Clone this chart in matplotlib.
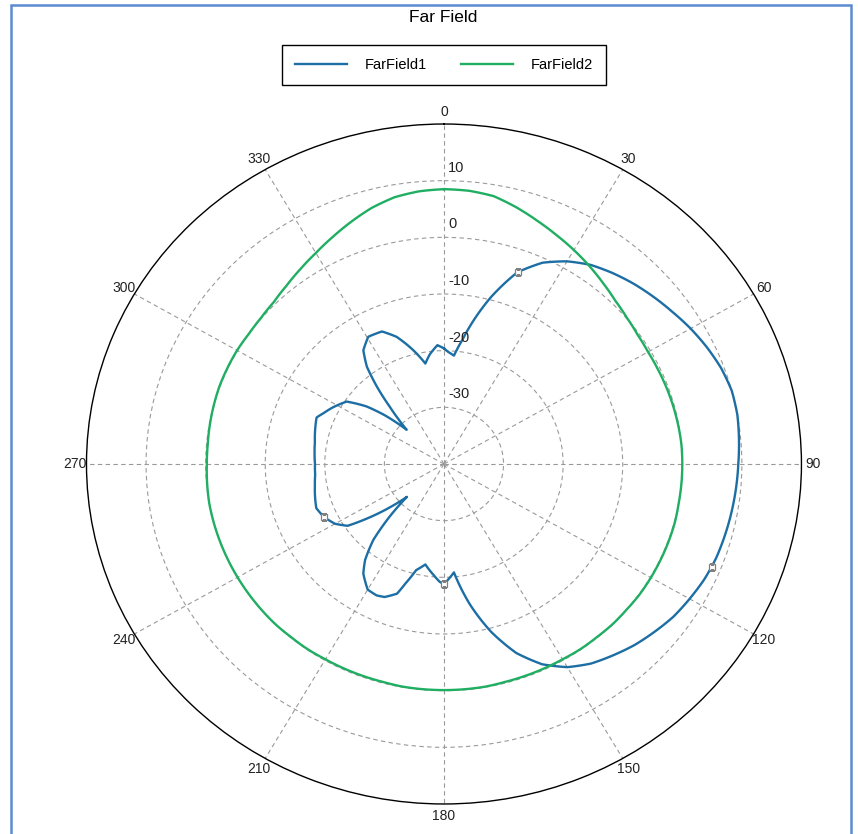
import numpy as np
import matplotlib.pyplot as plt
from matplotlib.transforms import offset_copy
from matplotlib.patches import Rectangle

plt.rcParams['font.family'] = ['Liberation Sans', 'DejaVu Sans']

# far field data, angle in degrees (0 = up, clockwise), gain in dB
ff1_angle = [0, 2, 5, 8, 10, 15, 20, 25, 30, 35, 40, 45, 50, 55, 60, 65, 70, 75, 80,
             85, 90, 95, 100, 105, 110, 115, 120, 125, 130, 135, 140, 145, 150, 155,
             160, 165, 170, 175, 178, 180, 182, 185, 190, 194, 197, 199, 203, 206,
             210, 215, 218, 221.5, 224.5, 227, 230, 233, 236, 240, 245, 250, 255,
             260, 265, 270, 275, 280, 285, 291, 294, 298, 304, 308, 311, 314, 316,
             318, 320.5, 323, 326, 330.5, 336, 340.5, 345.5, 350, 353, 357, 360]
ff1_db = [-19.6, -20.2, -20.8, -17.9, -15.5, -9.5, -4.0, -0.8, 1.3, 2.9, 4.0, 5.0,
          5.9, 6.8, 7.8, 8.7, 9.5, 10.0, 10.0, 9.7, 9.4, 9.2, 9.0, 8.8, 8.6, 8.2,
          7.6, 7.0, 6.1, 5.2, 4.1, 3.0, 1.4, -1.0, -4.5, -9.3, -14.8, -20.8, -19.6,
          -18.8, -19.2, -20.3, -22.0, -20.7, -18.0, -15.8, -14.5, -14.2, -14.4, -16.4,
          -18.5, -22.1, -27.0, -31.5, -28.0, -24.3, -20.5, -18.9, -17.8, -17.2,
          -17.6, -18.0, -18.3, -18.35, -18.2, -18.0, -17.6, -17.1, -17.9, -18.8,
          -20.3, -23.5, -27.0, -31.3, -29.0, -26.4, -22.3, -18.5, -15.8, -14.2,
          -14.4, -16.2, -19.2, -22.0, -20.5, -19.0, -19.6]

ff2_angle = list(range(0, 361, 5))
ff2_db = [8.5, 8.4, 8.0, 6.9, 5.7, 4.6, 3.6, 2.6, 1.6, 0.7, 0.1, -0.3, -0.45, -0.4,
          -0.3, -0.2, -0.1, 0.0, 0.0, 0.0, 0.0, 0.1, 0.1, 0.1, 0.1, 0.1, 0.0, 0.0,
          -0.1, -0.1, -0.2, -0.2, -0.2, -0.2, -0.1, -0.1, -0.1, -0.1, -0.1, -0.2,
          -0.2, -0.2, -0.2, -0.1, -0.1, 0.0, 0.0, 0.0, 0.0, 0.0, 0.0, 0.0, 0.0,
          -0.1, -0.2, -0.2, -0.1, 0.0, 0.1, 0.1, 0.1, 0.0, 0.1, 0.4, 1.1, 2.0,
          3.0, 4.2, 5.5, 6.8, 7.8, 8.3, 8.5]

marker_angle = [20, 112, 180, 245]
marker_db = [-3.9, 8.5, -18.8, -17.8]

r_ticks = [-30, -20, -10, 0, 10]
theta_ticks = list(range(0, 360, 30))

fig = plt.figure(figsize=(8.58, 8.34), dpi=100)
ax = fig.add_axes([0.1008, 0.036, 0.8333, 0.8153], projection='polar')
ax.set_aspect('auto')
ax.set_theta_zero_location('N')
ax.set_theta_direction(-1)
ax.set_rlim(-40, 20)

blue = '#1c6ea4'
green = '#1fae62'
l1, = ax.plot(np.radians(ff1_angle), ff1_db, color=blue, lw=1.7, label='FarField1', zorder=3)
l2, = ax.plot(np.radians(ff2_angle), ff2_db, color=green, lw=1.7, label='FarField2', zorder=3)
# draw segments as arcs in polar space instead of straight chords
for ln in (l1, l2):
    ln.get_path()._interpolation_steps = 12
ax.plot(np.radians(marker_angle), marker_db, ls='none', marker='s', ms=5,
        mfc='white', mec='#808080', mew=0.9, zorder=4)

ax.set_xticks(np.radians(theta_ticks))
ax.set_xticklabels([str(t) for t in theta_ticks], fontsize=10, color='#222222')
ax.tick_params(axis='x', pad=-2)
ax.set_yticks(r_ticks)
ax.set_yticklabels([])
ax.grid(True, color='#9a9a9a', ls=(0, (4, 3)), lw=0.8)
ax.spines['polar'].set_color('black')
ax.spines['polar'].set_linewidth(1.0)

lab_tr = offset_copy(ax.transData, fig=fig, x=4, y=13, units='dots')
for r in r_ticks:
    ax.text(0, r, str(r), transform=lab_tr, ha='left', va='center',
            fontsize=10.5, color='#222222')

fig.text(0.517, 1 - 18 / 834, 'Far Field', ha='center', va='center', fontsize=12.5)
fig.legend(loc='upper center', bbox_to_anchor=(0.5175, 0.955), ncol=2,
           fancybox=False, edgecolor='black', framealpha=1, fontsize=10.5,
           handlelength=3.6, columnspacing=2.3, borderpad=0.9, handletextpad=1.2)

fig.patches.append(Rectangle((11 / 858, -0.01), 840 / 858, 1 - 5 / 834 + 0.01,
                             transform=fig.transFigure, fill=False,
                             edgecolor='#5b8bd0', lw=1.8))

fig.savefig('out.png', dpi=100)
